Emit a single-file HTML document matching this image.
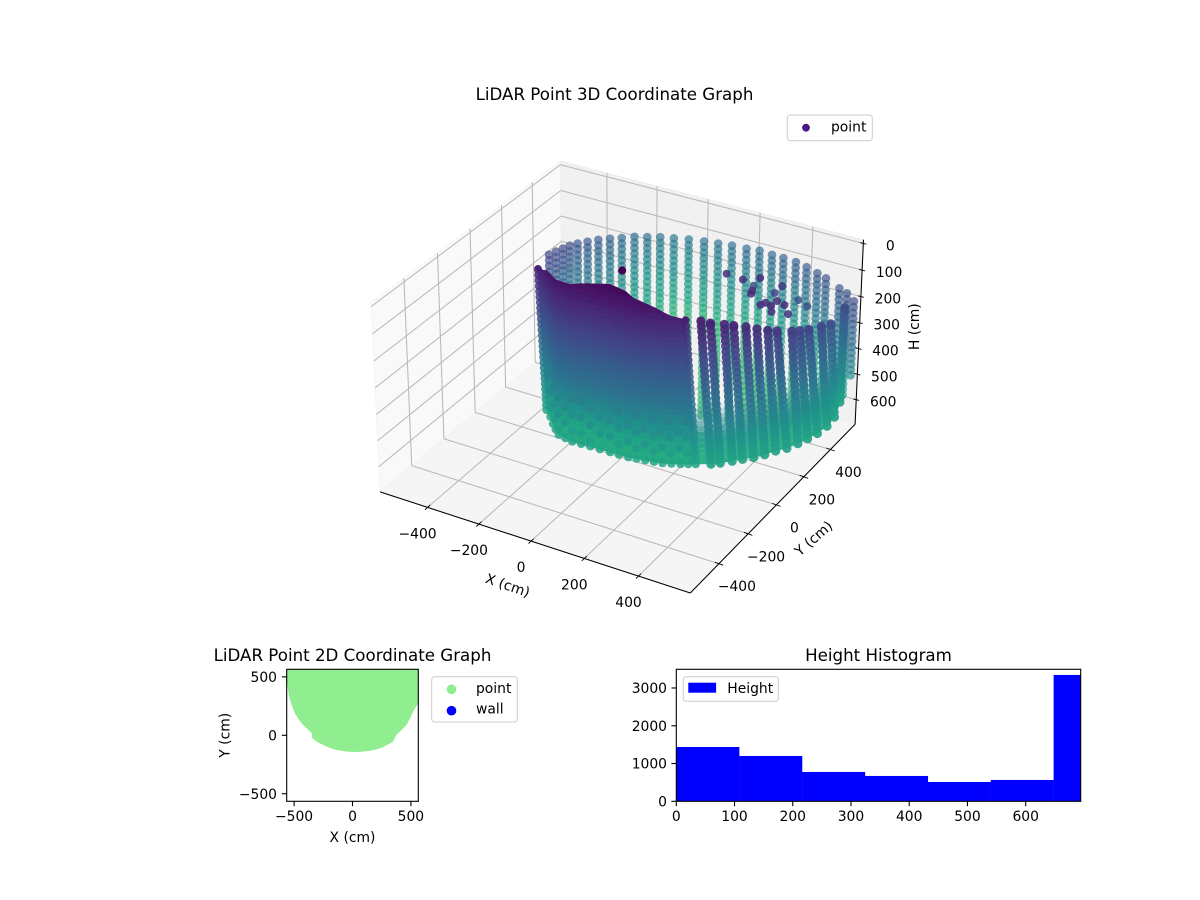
<!DOCTYPE html>
<html lang="en">
<head>
<meta charset="utf-8">
<title>LiDAR Point Graphs</title>
<style>
html,body{margin:0;padding:0;background:#fff;}
svg{display:block;}
text{font-family:"DejaVu Sans","Liberation Sans",sans-serif;fill:#000;}
</style>
</head>
<body>
<svg id="fig" xmlns="http://www.w3.org/2000/svg" width="1200" height="900" viewBox="0 0 1200 900">
  <rect x="0" y="0" width="1200" height="900" fill="#fff"/>
  <defs>
    <clipPath id="clip2d"><rect x="286.7" y="669.3" width="131.6" height="132"/></clipPath>
    <clipPath id="cliphist"><rect x="676.3" y="669.3" width="404.4" height="132"/></clipPath>
  </defs>
  <g id="g3d"></g>
  <g id="g2d"></g>
  <g id="ghist"></g>
  <text x="614.5" y="100" font-size="16.67" text-anchor="middle">LiDAR Point 3D Coordinate Graph</text>
  <text x="352.5" y="661" font-size="16.67" text-anchor="middle">LiDAR Point 2D Coordinate Graph</text>
  <text x="878.5" y="661" font-size="16.67" text-anchor="middle">Height Histogram</text>
  <text transform="translate(507.5,586) rotate(19)" font-size="13.89" text-anchor="middle" dominant-baseline="middle">X (cm)</text>
  <text transform="translate(814,539) rotate(-41)" font-size="13.89" text-anchor="middle" dominant-baseline="middle">Y (cm)</text>
  <text transform="translate(915,326.7) rotate(-90)" font-size="13.89" text-anchor="middle" dominant-baseline="middle">H (cm)</text>
  <text x="352.5" y="842" font-size="13.89" text-anchor="middle">X (cm)</text>
  <text transform="translate(229.5,735.3) rotate(-90)" font-size="13.89" text-anchor="middle">Y (cm)</text>
  <g>
    <rect x="787.3" y="115" width="85" height="25.7" rx="2.8" fill="#fff" fill-opacity="0.8" stroke="#ccc" stroke-width="1"/>
    <circle cx="806" cy="127.7" r="3.9" fill="#4a1a80"/>
    <text x="831" y="131.6" font-size="13.89">point</text>
  </g>
  <g>
    <rect x="431.7" y="676.7" width="85.6" height="45.3" rx="2.8" fill="#fff" fill-opacity="0.8" stroke="#ccc" stroke-width="1"/>
    <circle cx="451.5" cy="689.3" r="4.8" fill="#90ee90"/>
    <text x="476" y="693.2" font-size="13.89">point</text>
    <circle cx="451.5" cy="710.7" r="4.8" fill="#0000ff"/>
    <text x="476" y="713.6" font-size="13.89">wall</text>
  </g>
  <g></g>
</svg>
<script>
// ---------- 3D chart data (cm) ----------
const xTicks3d = [-400,-200,0,200,400];
const yTicks3d = [-400,-200,0,200,400];
const hTicks3d = [0,100,200,300,400,500,600];
// measured height rows of the scanner
const scanRows = [0,21,42,63,84,105,126,147,168,189,210,231,252,273,294,315,336,357,378,399,420,441,462,483,504,525,546,567,588,609,630,651,672,693];
// far wall columns
const backX = [-277,-268,-259,-250,-235,-213,-189,-159,-128,-95,-57,-19,24,71,122,170,217,269,313,362,405,453,500,549,589,657,693,736];
const backY = [-3,27,57,86,112,140,170,196,221,249,269,290,306,324,337,347,357,362,371,366,365,361,346,327,310,271,253,216];
const backBottomH = [420,480,540,600,640,650,650,650,650,650,650,650,660,670,680,690,690,690,680,650,640,620,600,550,530,460,385,290];
const backTone = [0.2,0.21,0.22,0.24,0.26,0.27,0.29,0.31,0.33,0.35,0.37,0.38,0.39,0.39,0.38,0.37,0.36,0.35,0.34,0.33,0.31,0.3,0.29,0.27,0.26,0.25,0.24,0.22];
// near wall columns (position at floor level, top height, lean of the column at its top)
const frontX = [-340,-305,-274,-247,-220,-189,-158,-124,-90,-52,-13,21,56,85,115,145,174,201,229,251,273,317,341,370,394,421,445,466,491,509,524,537,544,539,511];
const frontY = [70,38,3,-24,-48,-56,-63,-61,-59,-59,-58,-57,-55,-49,-43,-37,-30,-18,-5,8,20,46,67,97,125,154,188,228,262,307,351,399,458,525,624];
const frontTopH = [100,85,62,60,58,54,51,40,32,22,14,17,21,40,48,55,63,76,89,96,103,107,118,129,140,151,169,188,199,217,232,247,261,287,280];
const frontLean = [-22,-17,-13,-8,-4,-3,-2,1,3,2,1,-5,-11,-15,-19,-23,-27,-33,-38,-39,-40,-41,-41,-35,-39,-36,-37,-38,-45,-32,-39,-42,-32,-25,3];
const frontBottomH = 650;
// stray points inside the room
const strayX = [-13,294,359,402,408,426,420,490,490,487,495,520,521,554,539,591,578,621];
const strayY = [24,175,166,205,147,95,115,191,138,45,65,55,94,82,21,35,134,112];
const strayH = [0,0,0,0,0,0,0,0,0,0,0,0,0,0,0,0,0,0];
const strayTone = [0,0.13,0.14,0.12,0.25,0.12,0.12,0.17,0.2,0.12,0.12,0.13,0.13,0.13,0.15,0.14,0.26,0.26];

// ---------- 2D chart data (cm) ----------
const xTicks2d = [-500,0,500];
const yTicks2d = [-500,0,500];
const groundX = [-560,-560,-543,-523,-494,-460,-423,-351,-343,-300,-251,-195,-137,-65,5,80,148,208,262,348,376,420,462,492,519,562,565];
const groundY = [565,445,331,265,188,135,88,23,-26,-58,-83,-108,-126,-138,-143,-140,-132,-120,-103,-54,3,45,88,145,202,273,565];

// ---------- Histogram data ----------
const histEdges = [0,108,216,324,432,540,648,756];
const histCounts = [1438,1200,777,671,512,565,3345];
const histXTicks = [0,100,200,300,400,500,600];
const histYTicks = [0,1000,2000,3000];

const NS = 'http://www.w3.org/2000/svg';
function mk(parent, tag, attrs, txt){
  const el = document.createElementNS(NS, tag);
  for (const k in attrs) el.setAttribute(k, attrs[k]);
  if (txt !== undefined) el.textContent = txt;
  parent.appendChild(el);
  return el;
}
function fmt(v){ return String(v).replace('-', '\u2212'); }

const viridisStops = ['#440154','#482475','#414487','#355f8d','#2a788e','#21918c','#22a884','#44bf70','#7ad151','#bddf26','#fde725'];
function viridis(t){
  t = Math.max(0, Math.min(1, t)) * 10;
  const i = Math.min(9, Math.floor(t)), f = t - i;
  const a = viridisStops[i], b = viridisStops[i + 1];
  let s = '#';
  for (let k = 1; k < 7; k += 2) {
    const c = Math.round(parseInt(a.substr(k, 2), 16) * (1 - f) + parseInt(b.substr(k, 2), 16) * f);
    s += (c < 16 ? '0' : '') + c.toString(16);
  }
  return s;
}

// ---------- 3D projection (elev 30, azim -60) ----------
const xLim = [-588,588], yLim = [-590,590], hLim = [698,-14];
const bx = 1.1905, by = 1.1905, bz = 0.72;
const sx = 2972, sy = 2998, cx0 = 622, cy0 = 365.7;
function proj(x, y, h){
  const px = ((x - xLim[0]) / (xLim[1] - xLim[0]) - 0.5) * bx;
  const py = ((y - yLim[0]) / (yLim[1] - yLim[0]) - 0.5) * by;
  const pz = ((h - hLim[0]) / (hLim[1] - hLim[0]) - 0.5) * bz;
  const xv = 0.866025 * px + 0.5 * py;
  const yv = -0.25 * px + 0.433013 * py + 0.866025 * pz;
  const zv = 0.433013 * px - 0.75 * py + 0.5 * pz - 10;
  return [cx0 + sx * xv / -zv, cy0 - sy * yv / -zv];
}
function poly(pts){ return pts.map(p => p[0].toFixed(1) + ',' + p[1].toFixed(1)).join(' '); }

const g3 = document.getElementById('g3d');
const [xa, xb] = xLim, [ya, yb] = yLim, [hb, ht] = hLim;

// panes
let pane = mk(g3, 'polygon', {points: poly([proj(xa,ya,hb),proj(xa,yb,hb),proj(xa,yb,ht),proj(xa,ya,ht)]), fill:'#f9f9f9', stroke:'#f2f2f2', 'stroke-width':0.8});


pane = mk(g3, 'polygon', {points: poly([proj(xa,yb,hb),proj(xb,yb,hb),proj(xb,yb,ht),proj(xa,yb,ht)]), fill:'#f1f1f1', stroke:'#ececec', 'stroke-width':0.8});


pane = mk(g3, 'polygon', {points: poly([proj(xa,ya,hb),proj(xb,ya,hb),proj(xb,yb,hb),proj(xa,yb,hb)]), fill:'#f5f5f5', stroke:'#f0f0f0', 'stroke-width':0.8});



// grid lines
function line3(a, b, attrs){
  const p = proj(a[0],a[1],a[2]), q = proj(b[0],b[1],b[2]);
  return mk(g3, 'line', Object.assign({x1:p[0].toFixed(1), y1:p[1].toFixed(1), x2:q[0].toFixed(1), y2:q[1].toFixed(1)}, attrs));
}
const gridStyle = {stroke:'#b9b9b9', 'stroke-width':1.05};
xTicks3d.forEach(v => {
  const a = line3([v,ya,hb],[v,yb,hb],gridStyle);
  
  
  const b = line3([v,yb,hb],[v,yb,ht],gridStyle);
  
  
});
yTicks3d.forEach(v => {
  const a = line3([xa,v,hb],[xb,v,hb],gridStyle);
  
  
  const b = line3([xa,v,hb],[xa,v,ht],gridStyle);
  
  
});
hTicks3d.forEach(v => {
  const a = line3([xa,ya,v],[xa,yb,v],gridStyle);
  
  
  const b = line3([xa,yb,v],[xb,yb,v],gridStyle);
  
  
});

// axis lines and ticks
const axisStyle = {stroke:'#000', 'stroke-width':1.05};
let axisLine = line3([xa,ya,hb],[xb,ya,hb],axisStyle);


axisLine = line3([xb,ya,hb],[xb,yb,hb],axisStyle);


axisLine = line3([xb,yb,hb],[xb,yb,ht],axisStyle);



const tickStyle = {stroke:'#000', 'stroke-width':0.9};
xTicks3d.forEach(v => {
  const p = proj(v,ya,hb);
  const t = mk(g3, 'line', Object.assign({x1:p[0]-2.6, y1:p[1]+2.4, x2:p[0]+2.6, y2:p[1]-2.4}, tickStyle));
  
  
  const l = mk(g3, 'text', {x:(p[0]-10).toFixed(1), y:(p[1]+31).toFixed(1), 'font-size':13.89, 'text-anchor':'middle'}, fmt(v));
  
  
});
yTicks3d.forEach(v => {
  const p = proj(xb,v,hb);
  const t = mk(g3, 'line', Object.assign({x1:p[0]-4.2, y1:p[1]-1.5, x2:p[0]+4.2, y2:p[1]+1.5}, tickStyle));
  
  
  const l = mk(g3, 'text', {x:(p[0]+18).toFixed(1), y:(p[1]+27.5).toFixed(1), 'font-size':13.89, 'text-anchor':'middle'}, fmt(v));
  
  
});
hTicks3d.forEach(v => {
  const p = proj(xb,yb,v);
  const t = mk(g3, 'line', Object.assign({x1:p[0]-3, y1:p[1]-0.8, x2:p[0]+3, y2:p[1]+0.8}, tickStyle));
  
  
  const l = mk(g3, 'text', {x:(p[0]+27).toFixed(1), y:(p[1]+7).toFixed(1), 'font-size':13.89, 'text-anchor':'middle'}, fmt(v));
  
  
});

// far wall columns
const backR = 4.3, frontR = 4.6;
backX.forEach((x, i) => {
  scanRows.forEach(h => {
    if (h > backBottomH[i]) return;
    const p = proj(x, backY[i], h);
    const t = Math.min(0.66, backTone[i] + h / 1100);
    const c = mk(g3, 'circle', {cx:p[0].toFixed(1), cy:p[1].toFixed(1), r:backR, fill:viridis(t), 'fill-opacity':0.68});
    
    
  });
});

// stray points
strayX.forEach((x, i) => {
  const p = proj(x, strayY[i], strayH[i]);
  const c = mk(g3, 'circle', {cx:p[0].toFixed(1), cy:p[1].toFixed(1), r:4, fill:viridis(strayTone[i]), 'fill-opacity':i === 0 ? 1 : 0.85});
  
  
});

// near wall
function frontPoint(i, h){
  const top = frontTopH[i];
  const f = Math.max(0, (frontBottomH - h) / (frontBottomH - top));
  return proj(frontX[i] + f * frontLean[i] * 0.866, frontY[i] + f * frontLean[i] * 0.5, h);
}
const solidColumns = 21;
const allRows = scanRows.filter(h => h <= frontBottomH).concat([frontBottomH]);
// surface patches between adjacent near columns
for (let i = 0; i < frontX.length - 1; i++) {
  const solid = i < solidColumns - 1;
  for (let k = 0; k < allRows.length - 1; k++) {
    const h1 = allRows[k], h2 = allRows[k + 1];
    if (!solid && h1 < 420) continue;
    const a = frontTopH[i], b = frontTopH[i + 1];
    if (h2 < a && h2 < b) continue;
    const pts = [frontPoint(i, Math.max(h1, a)), frontPoint(i + 1, Math.max(h1, b)), frontPoint(i + 1, Math.max(h2, b)), frontPoint(i, Math.max(h2, a))];
    const mid = (h1 + h2) / 2;
    const t = Math.min(0.61, mid / 1100 + (mid > 430 ? (mid - 430) / 3000 : 0));
    const col = viridis(t);
    const op = solid ? 1 : Math.min(0.95, (mid - 420) / 130);
    const q = mk(g3, 'polygon', {points: poly(pts), fill: col, stroke: col, 'stroke-width': 0.8, 'fill-opacity': op, 'stroke-opacity': solid ? 1 : 0});
    
    
  }
}
// near wall points
frontX.forEach((x, i) => {
  const solid = i < solidColumns;
  const rows = [frontTopH[i]].concat(scanRows.filter(h => h > frontTopH[i] && h <= frontBottomH)).concat([frontBottomH]);
  rows.forEach((h, k) => {
    const bottomEdge = h === frontBottomH;
    const sideEdge = i === 0 || i === solidColumns - 1;
    if (solid && !bottomEdge && !sideEdge && (h < 480 || (i * 2 + k) % 3 !== 0)) return;
    const p = frontPoint(i, h);
    const isTop = h === frontTopH[i];
    const t = solid ? h / 1100 - 0.01 : h / 1100 - 0.02;
    const c = mk(g3, 'circle', {cx:p[0].toFixed(1), cy:p[1].toFixed(1), r:solid ? (isTop ? 3 : 4.2) : frontR, fill:viridis(t), 'fill-opacity':solid ? 0.85 : 0.92});
    
    
  });
});

// ---------- 2D chart ----------
const g2 = document.getElementById('g2d');
const s2 = 0.1168;
const xPx2 = x => 352.5 + x * s2;
const yPx2 = y => 735.3 - y * s2;
const ground = mk(g2, 'polygon', {points: groundX.map((x, i) => xPx2(x).toFixed(1) + ',' + yPx2(groundY[i]).toFixed(1)).join(' '), fill:'#90ee90', 'clip-path':'url(#clip2d)'});


const frame2 = mk(g2, 'rect', {x:286.7, y:669.3, width:131.6, height:132, fill:'none', stroke:'#000', 'stroke-width':1.1});


xTicks2d.forEach(v => {
  const x = xPx2(v);
  const t = mk(g2, 'line', {x1:x, x2:x, y1:801.3, y2:806.2, stroke:'#000', 'stroke-width':1.1});
  
  
  const l = mk(g2, 'text', {x:x, y:821, 'font-size':13.89, 'text-anchor':'middle'}, fmt(v));
  
  
});
yTicks2d.forEach(v => {
  const y = yPx2(v);
  const t = mk(g2, 'line', {x1:286.7, x2:281.8, y1:y, y2:y, stroke:'#000', 'stroke-width':1.1});
  
  
  const l = mk(g2, 'text', {x:277, y:y + 5.2, 'font-size':13.89, 'text-anchor':'end'}, fmt(v));
  
  
});

// ---------- Histogram ----------
const gh = document.getElementById('ghist');
const xPxH = x => 676.3 + x * 0.5823;
const yPxH = y => 801.3 - y * 0.03777;
histCounts.forEach((c, i) => {
  const x0 = xPxH(histEdges[i]), x1 = xPxH(histEdges[i + 1]), y = yPxH(c);
  const b = mk(gh, 'rect', {x:x0, y:y, width:x1 - x0 + 0.2, height:801.3 - y, fill:'#0000ff', 'clip-path':'url(#cliphist)'});
  
  
});
const frameH = mk(gh, 'rect', {x:676.3, y:669.3, width:404.4, height:132, fill:'none', stroke:'#000', 'stroke-width':1.1});


histXTicks.forEach(v => {
  const x = xPxH(v);
  const t = mk(gh, 'line', {x1:x, x2:x, y1:801.3, y2:806.2, stroke:'#000', 'stroke-width':1.1});
  
  
  const l = mk(gh, 'text', {x:x, y:821, 'font-size':13.89, 'text-anchor':'middle'}, fmt(v));
  
  
});
histYTicks.forEach(v => {
  const y = yPxH(v);
  const t = mk(gh, 'line', {x1:676.3, x2:671.4, y1:y, y2:y, stroke:'#000', 'stroke-width':1.1});
  
  
  const l = mk(gh, 'text', {x:667, y:y + 5.2, 'font-size':13.89, 'text-anchor':'end'}, fmt(v));
  
  
});
const lf = mk(gh, 'rect', {x:683.3, y:676.7, width:95, height:24.6, rx:2.8, fill:'#fff', 'fill-opacity':0.8, stroke:'#ccc', 'stroke-width':1});


const lp = mk(gh, 'rect', {x:688.3, y:682.7, width:27.8, height:10, fill:'#0000ff'});


const lt = mk(gh, 'text', {x:727.3, y:693.2, 'font-size':13.89}, 'Height');


</script>
</body>
</html>
